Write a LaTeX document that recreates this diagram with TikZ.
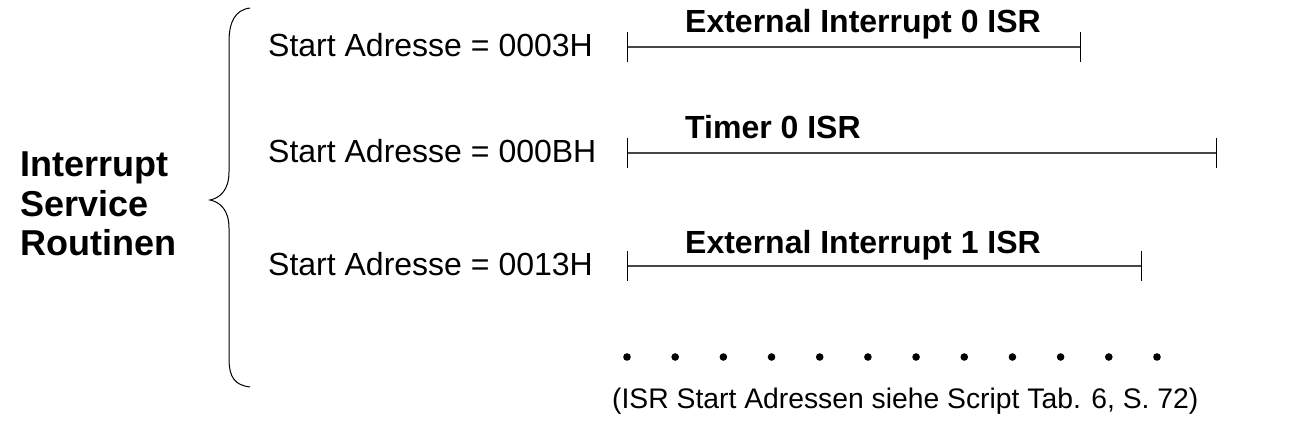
\documentclass[tikz,border=0pt]{standalone}
\usepackage{fontspec}
\setmainfont{Liberation Sans}
\begin{document}
\begin{tikzpicture}[x=1pt,y=-1pt,
  addr/.style={anchor=base west,inner sep=0pt,font=\fontsize{32}{38}\selectfont},
  isrlabel/.style={anchor=base west,inner sep=0pt,font=\fontsize{32}{38}\selectfont\bfseries},
  title/.style={anchor=base west,inner sep=0pt,font=\fontsize{36}{40}\selectfont\bfseries},
  span/.style={draw=black!72,line width=1.6pt},
  tickmark/.style={draw=black,line width=1pt},
  bracepath/.style={draw=black,line width=1pt},
  dotmark/.style={fill=black,draw=none}]
\useasboundingbox (0,0) rectangle (1299,433);

% title
\node[title] (t1) at (20,177) {Interrupt};
\node[title] (t2) at (20,216) {Service};
\node[title] (t3) at (20,255) {Routinen};

% brace
\draw[bracepath] (250,8) .. controls (235,10) and (229,22) .. (229,42)
  -- (229,172) .. controls (229,190) and (220,198) .. (210,200)
  .. controls (220,202) and (229,210) .. (229,228)
  -- (229,358) .. controls (229,378) and (235,385) .. (250,387);

% addresses
\node[addr] (s1) at (268,57) {Start Adresse = 0003H};
\node[addr] (s2) at (268,163) {Start Adresse = 000BH};
\node[addr] (s3) at (268,275) {Start Adresse = 0013H};

% spans
\coordinate (a1) at (627,47);  \coordinate (b1) at (1080,47);
\coordinate (a2) at (627,153); \coordinate (b2) at (1216,153);
\coordinate (a3) at (627,266); \coordinate (b3) at (1141,266);
\foreach \i in {1,2,3}{
  \draw[span] (a\i) -- (b\i);
  \draw[tickmark] ([yshift=15pt]a\i) -- ([yshift=-15pt]a\i);
  \draw[tickmark] ([yshift=15pt]b\i) -- ([yshift=-15pt]b\i);
}
\node[isrlabel] (l1) at (685,33) {External Interrupt 0 ISR};
\node[isrlabel] (l2) at (685,139) {Timer 0 ISR};
\node[isrlabel] (l3) at (685,253) {External Interrupt 1 ISR};

% dots
\foreach \k in {0,...,11}{
  \fill[dotmark] (627+48.18*\k,357) circle (3.8pt);
}

% note
\node[anchor=base west,inner sep=0pt,font=\fontsize{28.3}{34}\selectfont] (note) at (612,408) {(ISR Start Adressen siehe Script Tab. 6, S. 72)};
\end{tikzpicture}
\end{document}
